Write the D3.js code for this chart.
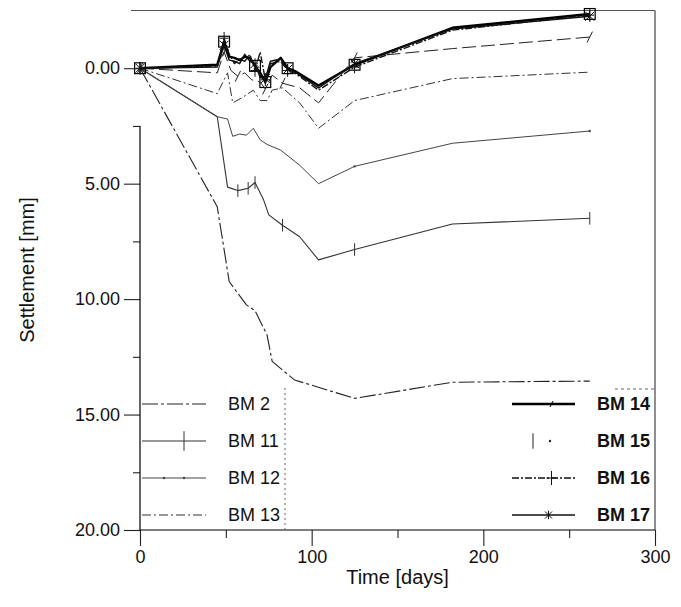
<!DOCTYPE html>
<html><head><meta charset="utf-8">
<script src="https://cdn.jsdelivr.net/npm/d3@7"></script>
<style>body{margin:0;background:#fff}svg{display:block}</style>
</head><body><svg id="c" width="681" height="607"></svg>
<script>
// ---- data: [day, settlement mm] ----
const bm2  = [[0,0],[45,6.0],[52,9.25],[62,10.25],[67,10.5],[74,11.55],[77,12.7],[90,13.5],[125,14.3],[182,13.6],[262,13.55]];
const bm11 = [[0,0],[45,2.1],[51,5.15],[57,5.3],[63,5.2],[67,4.95],[72,5.7],[75,6.35],[83,6.8],[93,7.3],[104,8.3],[125,7.85],[182,6.75],[262,6.5]];
const bm12 = [[0,0],[45,2.1],[51,2.2],[54,2.95],[58,2.85],[62,2.9],[66,2.6],[70,3.1],[74,3.3],[82,3.55],[93,4.2],[104,5.0],[125,4.25],[182,3.25],[262,2.72]];
const bm13 = [[0,0],[45,1.1],[51,0.2],[54,1.5],[60,1.25],[66,0.95],[70,1.4],[74,1.4],[77,0.95],[83,0.85],[93,1.5],[104,2.6],[125,1.4],[182,0.45],[262,0.17]];
const bm14 = [[0,0],[45,-0.15],[49,-1.15],[52,-0.5],[55,-0.45],[58,-0.35],[61,-0.5],[64,-0.45],[67,-0.1],[70,0.2],[73,0.6],[76,-0.05],[82,-0.45],[86,0],[91,0.15],[104,0.75],[125,-0.15],[182,-1.75],[262,-2.35]];
const bm15 = [[0,0],[45,0.2],[49,-0.7],[53,0.1],[57,0.35],[61,0.2],[65,0.5],[70,0.6],[73,0.9],[77,0.3],[83,0.65],[93,0.85],[104,1.5],[125,-0.45],[182,-0.85],[262,-1.35]];
const bm16 = [[0,0],[45,-0.1],[49,-1.3],[52,-0.6],[55,-0.2],[58,-0.4],[61,-0.3],[64,-0.6],[67,0.1],[70,-0.7],[73,0.5],[76,-0.2],[82,-0.3],[86,0.1],[91,0.25],[104,0.95],[125,-0.05],[182,-1.65],[262,-2.3]];
const bm17 = [[0,0],[45,-0.05],[49,-1.0],[52,-0.35],[55,-0.3],[58,-0.2],[61,-0.6],[64,-0.3],[67,-0.2],[70,0.4],[73,0.45],[76,-0.3],[82,-0.4],[86,0.05],[91,0.2],[104,0.85],[125,-0.2],[182,-1.7],[262,-2.25]];

const seriesNames = ["BM 2","BM 11","BM 12","BM 13","BM 14","BM 15","BM 16","BM 17"];
const seriesData  = [bm2, bm11, bm12, bm13, bm14, bm15, bm16, bm17];
// survey days at which the plotting program drew symbols
const markerDays  = [0, 49, 57, 63, 67, 73, 83, 86, 125, 262];
const xTickValues = [0,100,200,300];
const xMinorTicks = [50,150,250];
const yTickValues = [0,5,10,15,20];
const yMinorTicks = [2.5,7.5,12.5,17.5];

// ---- styles ----
const styles = {
  "BM 2":  {color:"#222", width:1.1, dash:"16,3,3,3", marker:null},
  "BM 11": {color:"#333", width:1.1, dash:null, marker:"vbar"},
  "BM 12": {color:"#444", width:1.0, dash:null, marker:"dot"},
  "BM 13": {color:"#333", width:1.0, dash:"9,3,2,3", marker:null},
  "BM 14": {color:"#000", width:2.4, dash:null, marker:"square"},
  "BM 15": {color:"#222", width:1.0, dash:"14,5", marker:"slash"},
  "BM 16": {color:"#111", width:1.4, dash:"7,2,2,2", marker:"plus"},
  "BM 17": {color:"#111", width:1.5, dash:null, marker:"star"}
};

const svg = d3.select("#c");
const x = d3.scaleLinear().domain([0,300]).range([140,655]);
const y = d3.scaleLinear().domain([-2.5,20]).range([10.5,530]);
const font = "Liberation Sans, Arial, sans-serif";

// frame
svg.append("line").attr("x1",131).attr("x2",x(300)).attr("y1",y(-2.5)).attr("y2",y(-2.5)).attr("stroke","#555").attr("stroke-width",1.2);
svg.append("line").attr("x1",x(300)).attr("x2",x(300)).attr("y1",y(-2.5)).attr("y2",y(20)).attr("stroke","#444").attr("stroke-width",1.2);

// axes
const gx = svg.append("g").attr("transform",`translate(0,${y(20)})`)
  .call(d3.axisBottom(x).tickValues(xTickValues).tickSize(16).tickPadding(4).tickFormat(d3.format("d")));
gx.select(".domain").remove();
const gxm = svg.append("g").attr("transform",`translate(0,${y(20)})`)
  .call(d3.axisBottom(x).tickValues(xMinorTicks).tickSize(8).tickFormat(""));
gxm.select(".domain").remove();
svg.append("line").attr("x1",x(0)).attr("x2",x(300)).attr("y1",y(20)).attr("y2",y(20)).attr("stroke","#000").attr("stroke-width",1.2);

const gy = svg.append("g").attr("transform",`translate(${x(0)},0)`)
  .call(d3.axisLeft(y).tickValues(yTickValues).tickSize(16).tickPadding(4).tickFormat(d3.format(".2f")));
gy.select(".domain").remove();
const gym = svg.append("g").attr("transform",`translate(${x(0)},0)`)
  .call(d3.axisLeft(y).tickValues(yMinorTicks).tickSize(7).tickFormat(""));
gym.select(".domain").remove();
svg.append("line").attr("x1",x(0)).attr("x2",x(0)).attr("y1",y(2.5)).attr("y2",y(20)).attr("stroke","#000").attr("stroke-width",1.2);

svg.selectAll(".tick text").attr("font-family",font).attr("font-size",18).attr("fill","#111");
svg.selectAll(".tick line").attr("stroke","#222").attr("stroke-width",1.1);

// axis titles
svg.append("text").attr("x",x(150)).attr("y",584).attr("text-anchor","middle")
  .attr("font-family",font).attr("font-size",20).attr("fill","#111").text("Time [days]");
svg.append("text").attr("transform",`translate(34,${270}) rotate(-90)`).attr("text-anchor","middle")
  .attr("font-family",font).attr("font-size",20).attr("fill","#111").text("Settlement [mm]");

// markers
function drawMarker(g, type, cx, cy, color, s){
  s = s || 1;
  if(type==="vbar"){
    g.append("line").attr("x1",cx).attr("x2",cx).attr("y1",cy-7*s).attr("y2",cy+7*s).attr("stroke",color).attr("stroke-width",1);
  } else if(type==="dot"){
    g.append("circle").attr("cx",cx).attr("cy",cy).attr("r",1.2).attr("fill",color);
  } else if(type==="square"){
    g.append("rect").attr("x",cx-6*s).attr("y",cy-6*s).attr("width",12*s).attr("height",12*s).attr("fill","none").attr("stroke",color).attr("stroke-width",1.2);
  } else if(type==="plus"){
    g.append("path").attr("d",`M${cx-5*s},${cy}H${cx+5*s}M${cx},${cy-7*s}V${cy+7*s}`).attr("stroke",color).attr("stroke-width",1);
  } else if(type==="star"){
    g.append("path").attr("d",`M${cx-5*s},${cy-5*s}L${cx+5*s},${cy+5*s}M${cx+5*s},${cy-5*s}L${cx-5*s},${cy+5*s}M${cx},${cy-6*s}V${cy+6*s}`).attr("stroke",color).attr("stroke-width",1);
  } else if(type==="slash"){
    g.append("path").attr("d",`M${cx-3*s},${cy+6*s}L${cx+3*s},${cy-6*s}`).attr("stroke",color).attr("stroke-width",1);
  }
}

// lines
const line = d3.line().x(d=>x(d[0])).y(d=>y(d[1]));
const plot = svg.append("g");
seriesNames.forEach((name,i)=>{
  const st = styles[name];
  plot.append("path").datum(seriesData[i]).attr("d",line).attr("fill","none")
    .attr("stroke",st.color).attr("stroke-width",st.width)
    .attr("stroke-dasharray",st.dash).attr("stroke-linejoin","round");
  if(st.marker){
    const mg = plot.append("g");
    seriesData[i].filter(d=>markerDays.includes(d[0]))
      .forEach(d=>drawMarker(mg, st.marker, x(d[0]), y(d[1]), st.color, 0.9));
  }
});

// legends
const legLeft = seriesNames.slice(0,4), legRight = seriesNames.slice(4);
const rowsY = [404,441,478,515];
function legend(names, x0, x1, tx, bold){
  names.forEach((name,i)=>{
    const st = styles[name], yy = rowsY[i];
    const g = svg.append("g");
    if(name==="BM 15"){
      drawMarker(g,"vbar",x0+21,yy,st.color,1.1);
      g.append("circle").attr("cx",x0+38).attr("cy",yy).attr("r",1.2).attr("fill",st.color);
    } else {
      g.append("line").attr("x1",x0).attr("x2",x1).attr("y1",yy).attr("y2",yy)
        .attr("stroke",st.color).attr("stroke-width",st.width).attr("stroke-dasharray",st.dash);
      if(st.marker==="vbar") drawMarker(g,"vbar",(x0+x1)/2+10,yy,st.color,1.4);
      else if(st.marker==="dot"){ drawMarker(g,"dot",(x0+x1)/2-10,yy,st.color); drawMarker(g,"dot",(x0+x1)/2+10,yy,st.color); }
      else if(st.marker==="plus") drawMarker(g,"plus",(x0+x1)/2+8,yy,st.color,1.0);
      else if(st.marker==="star") drawMarker(g,"star",(x0+x1)/2+5,yy,st.color,0.7);
      else if(st.marker==="square") drawMarker(g,"slash",(x0+x1)/2+8,yy,st.color,0.5);
    }
    g.append("text").attr("x",tx).attr("y",yy).attr("dy","0.35em").attr("font-family",font)
      .attr("font-size",18).attr("font-weight",bold?"bold":"normal").attr("fill","#111").text(name);
  });
}
svg.append("line").attr("x1",285).attr("x2",285).attr("y1",388).attr("y2",530).attr("stroke","#666").attr("stroke-dasharray","2,3");
svg.append("line").attr("x1",615).attr("x2",655).attr("y1",389).attr("y2",389).attr("stroke","#666").attr("stroke-dasharray","3,3");
legend(legLeft,142,206,228,false);
legend(legRight,512,575,597,true);
</script></body></html>
